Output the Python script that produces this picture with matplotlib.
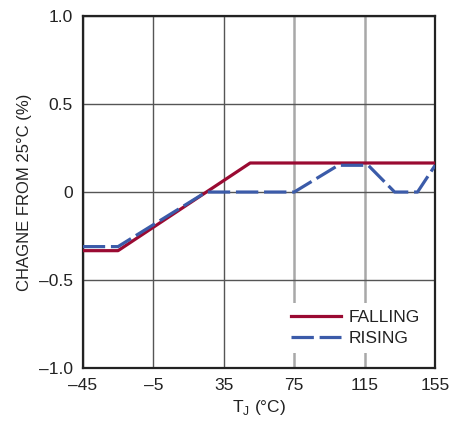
import matplotlib.pyplot as plt

plt.rcParams['font.family'] = ['Liberation Sans Narrow', 'Liberation Sans', 'DejaVu Sans']

# Output change vs junction temperature
falling_t = [-45, -25, 50, 155]
falling_pct = [-0.333, -0.333, 0.165, 0.165]

rising_t = [-45, -25, 25, 75, 100, 117, 132, 145, 155]
rising_pct = [-0.31, -0.31, 0.0, 0.0, 0.152, 0.152, 0.0, 0.0, 0.152]

x_ticks = [-45, -5, 35, 75, 115, 155]
y_ticks = [-1.0, -0.5, 0, 0.5, 1.0]
y_labels = ['–1.0', '–0.5', '0', '0.5', '1.0']
x_labels = ['–45', '–5', '35', '75', '115', '155']

fig = plt.figure(figsize=(4.5, 4.28), dpi=100)
ax = fig.add_axes([0.184, 0.140, 0.783, 0.8226])

ax.plot(falling_t, falling_pct, color='#9A0A32', lw=2.3, label='FALLING', zorder=3)
ax.plot(rising_t, rising_pct, color='#3B5BA9', lw=2.3, dashes=(7, 1.8),
        label='RISING', zorder=3)

ax.set_xlim(-45, 155)
ax.set_ylim(-1.0, 1.0)
ax.set_xticks(x_ticks)
ax.set_xticklabels(x_labels)
ax.set_yticks(y_ticks)
ax.set_yticklabels(y_labels)
ax.tick_params(length=0, labelsize=12.5, pad=7, colors='#222222')

ax.grid(True, color='#555555', lw=1)
for gl, t in zip(ax.get_xgridlines(), x_ticks):
    if t in (75, 115):
        gl.set_color('#a8a8a8')
        gl.set_linewidth(1.8)

for s in ax.spines.values():
    s.set_linewidth(1.6)
    s.set_color('#222222')

ax.set_xlabel('T$_\\mathregular{J}$ (°C)', fontsize=12.5, color='#222222', labelpad=4)
ax.set_ylabel('CHAGNE FROM 25°C (%)', fontsize=12, color='#222222', labelpad=5)

leg = ax.legend(loc='lower right', bbox_to_anchor=(0.975, 0.043), fontsize=12.5,
                handlelength=2.9, handletextpad=0.4, labelspacing=0.35,
                frameon=True, fancybox=False, framealpha=1,
                facecolor='white', edgecolor='none', borderpad=0.4,
                borderaxespad=0)
for txt in leg.get_texts():
    txt.set_color('#222222')

fig.savefig('out.png', dpi=100)
